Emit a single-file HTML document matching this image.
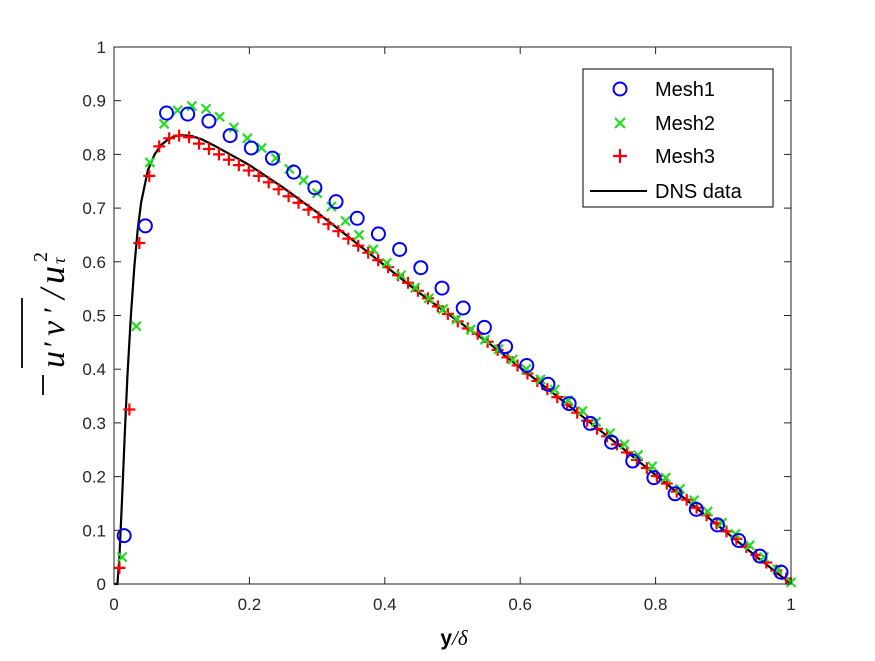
<!DOCTYPE html>
<html><head><meta charset="utf-8"><style>
body{margin:0;background:#fff;width:875px;height:656px;overflow:hidden}
</style></head><body>
<svg id="chart" width="875" height="656" xmlns="http://www.w3.org/2000/svg" style="font-family:'Liberation Sans',sans-serif">
<rect width="875" height="656" fill="#fff"/>
<g id="plot"></g>
<g id="axes"></g>
<g transform="translate(64,300) rotate(-90)" style="font-family:'Liberation Serif',serif;font-style:italic;font-weight:normal">
<line x1="-95" y1="-21" x2="-75" y2="-21" stroke="#000" stroke-width="1.8"/>
<line x1="-68" y1="-42" x2="2" y2="-42" stroke="#000" stroke-width="1.8"/>
<text x="-68" y="0" font-size="34">u</text>
<text x="-49" y="0" font-size="30">′</text>
<text x="-36" y="0" font-size="34">v</text>
<text x="-15" y="0" font-size="30">′</text>
<text x="1" y="0" font-size="36">/</text>
<text x="16" y="0" font-size="36">u</text>
<text x="38" y="-17" font-size="20" style="font-style:normal">2</text>
<text x="36" y="1" font-size="18">τ</text>
</g>
<text x="454" y="645" text-anchor="middle" font-size="21"><tspan font-weight="bold">y</tspan><tspan style="font-family:'Liberation Serif',serif;font-style:italic">/δ</tspan></text>
<g>
<rect x="583" y="69" width="190" height="138" fill="#fff" stroke="#000" stroke-width="1"/>
<g><circle cx="620" cy="89" r="6.5" fill="none" stroke="#0000ff" stroke-width="2"/><text x="655" y="96" font-size="20">Mesh1</text></g>
<g><path d="M615,118 l10,10 M625,118 l-10,10" stroke="#22dd22" stroke-width="2.2"/><text x="655" y="130" font-size="20">Mesh2</text></g>
<g><path d="M613,156 h14 M620,149 v14" stroke="#ff0000" stroke-width="2.2"/><text x="655" y="163" font-size="20">Mesh3</text></g>
<g><line x1="590" y1="191" x2="647" y2="191" stroke="#000" stroke-width="2"/><text x="655" y="198" font-size="20">DNS data</text></g>
</g>
</svg>
<script>
const mesh1Start=0.015, mesh1Step=0.0313;
const mesh1Y=[0.09,0.667,0.877,0.875,0.862,0.835,0.812,0.793,0.767,0.738,0.712,0.681,0.652,0.623,0.589,0.551,0.514,0.478,0.442,0.407,0.372,0.336,0.299,0.264,0.229,0.198,0.168,0.139,0.11,0.081,0.052,0.022];
const mesh2X=[0.012,0.033,0.053,0.074,0.094,0.115,0.136,0.156,0.177,0.197,0.218,0.239,0.259,0.280,0.300,0.321,0.342,0.362,0.383,0.403,0.424,0.445,0.465,0.486,0.506,0.527,0.548,0.568,0.589,0.609,0.630,0.651,0.671,0.692,0.712,0.733,0.754,0.774,0.795,0.815,0.836,0.857,0.877,0.898,0.918,0.939,0.960,0.980,1.000];
const mesh2Y=[0.05,0.48,0.785,0.857,0.882,0.89,0.885,0.87,0.85,0.83,0.812,0.793,0.773,0.752,0.728,0.703,0.676,0.65,0.623,0.598,0.575,0.552,0.532,0.512,0.493,0.474,0.455,0.437,0.418,0.4,0.381,0.362,0.342,0.322,0.302,0.281,0.26,0.24,0.219,0.198,0.177,0.156,0.135,0.114,0.093,0.072,0.05,0.027,0.003];
const mesh3Start=0.008, mesh3Step=0.0147;
const mesh3Y=[0.03,0.325,0.635,0.76,0.815,0.83,0.835,0.832,0.82,0.81,0.80,0.79,0.78,0.77,0.76,0.748,0.735,0.722,0.71,0.697,0.683,0.67,0.657,0.643,0.63,0.617,0.603,0.59,0.575,0.561,0.546,0.532,0.517,0.503,0.489,0.476,0.466,0.451,0.436,0.422,0.407,0.392,0.378,0.363,0.348,0.334,0.319,0.304,0.289,0.275,0.26,0.245,0.231,0.216,0.201,0.187,0.172,0.157,0.142,0.128,0.113,0.098,0.084,0.069,0.054,0.04,0.025,0.01];
const dnsX=[0,0.005,0.008,0.012,0.016,0.02,0.025,0.03,0.035,0.04,0.05,0.06,0.07,0.08,0.09,0.1,0.115,0.13,0.15,0.2,0.25,0.3,0.35,0.4,0.45,0.5,0.55,0.6,0.65,0.7,0.75,0.8,0.85,0.9,0.95,1.0];
const dnsY=[0,0.0,0.05,0.16,0.28,0.39,0.5,0.59,0.66,0.71,0.77,0.8,0.818,0.828,0.834,0.836,0.834,0.828,0.815,0.78,0.738,0.692,0.643,0.593,0.543,0.497,0.452,0.403,0.354,0.304,0.254,0.203,0.152,0.101,0.05,0.0];
const xTicks=[0,0.2,0.4,0.6,0.8,1];
const yTicks=[0,0.1,0.2,0.3,0.4,0.5,0.6,0.7,0.8,0.9,1];
const X0=114,X1=791,Y0=584,Y1=47;
const sx=v=>X0+v*(X1-X0), sy=v=>Y0-v*(Y0-Y1);
const NS="http://www.w3.org/2000/svg";
const plot=document.getElementById('plot'), axes=document.getElementById('axes');
function mk(t,a,p){const e=document.createElementNS(NS,t);for(const k in a)e.setAttribute(k,a[k]);p.appendChild(e);return e;}
let d=dnsX.map((x,i)=>(i?'L':'M')+sx(x).toFixed(1)+','+sy(dnsY[i]).toFixed(1)).join(' ');
const ln=mk('path',{d:d,fill:'none',stroke:'#000','stroke-width':2.2},plot);


mesh3Y.forEach((y,i)=>{const cx=sx(mesh3Start+i*mesh3Step),cy=sy(y);
const p=mk('path',{d:`M${cx-6},${cy}h12M${cx},${cy-6}v12`,stroke:'#ff0000','stroke-width':2.2},plot);

});
mesh2Y.forEach((y,i)=>{const cx=sx(mesh2X[i]),cy=sy(y);
const p=mk('path',{d:`M${cx-4.5},${cy-4.5}l9,9M${cx+4.5},${cy-4.5}l-9,9`,stroke:'#22dd22','stroke-width':2.2},plot);

});
mesh1Y.forEach((y,i)=>{const c=mk('circle',{cx:sx(mesh1Start+i*mesh1Step),cy:sy(y),r:6.5,fill:'none',stroke:'#0000ff','stroke-width':2},plot);

});
mk('rect',{x:X0,y:Y1,width:X1-X0,height:Y0-Y1,fill:'none',stroke:'#222','stroke-width':1},axes);
xTicks.forEach(t=>{const x=sx(t);
mk('line',{x1:x,y1:Y0,x2:x,y2:Y0-7,stroke:'#222'},axes);mk('line',{x1:x,y1:Y1,x2:x,y2:Y1+7,stroke:'#222'},axes);
const tx=mk('text',{x:x,y:Y0+26,'text-anchor':'middle','font-size':17,fill:'#262626'},axes);tx.textContent=String(t);

});
yTicks.forEach(t=>{const y=sy(t);
mk('line',{x1:X0,y1:y,x2:X0+7,y2:y,stroke:'#222'},axes);mk('line',{x1:X1,y1:y,x2:X1-7,y2:y,stroke:'#222'},axes);
const tx=mk('text',{x:X0-8,y:y+6,'text-anchor':'end','font-size':17,fill:'#262626'},axes);tx.textContent=String(t);

});
</script>
</body></html>
